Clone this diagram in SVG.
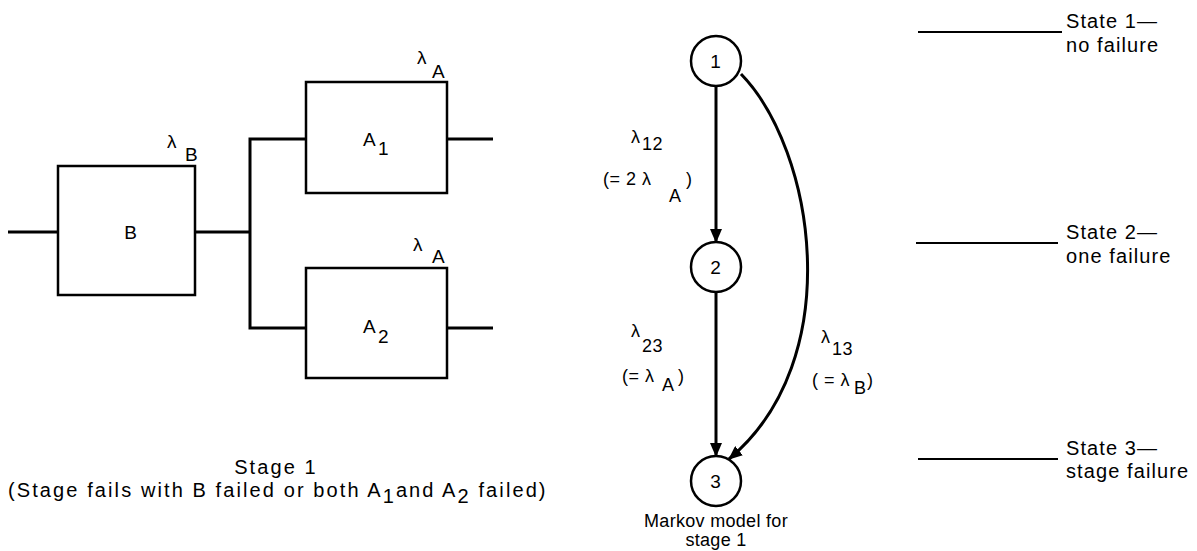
<svg xmlns="http://www.w3.org/2000/svg" width="1197" height="551" viewBox="0 0 1197 551">
<style>
.t{font-family:"Liberation Sans",Arial,sans-serif;font-size:19px;fill:#000;letter-spacing:0.8px}
.lb{font-family:"Liberation Sans",Arial,sans-serif;font-size:18px;fill:#000;letter-spacing:0.5px}
.mk{font-family:"Liberation Sans",Arial,sans-serif;font-size:18px;fill:#000;letter-spacing:0.3px}
.cap{font-family:"Liberation Sans",Arial,sans-serif;font-size:20px;fill:#000;letter-spacing:2.1px}
.sl{font-family:"Liberation Sans",Arial,sans-serif;font-size:20px;fill:#000;letter-spacing:1.1px}
.box{fill:none;stroke:#000;stroke-width:2.5}
.wire{fill:none;stroke:#000;stroke-width:3}
.st{fill:#fff;stroke:#000;stroke-width:2.5}
.arc{fill:none;stroke:#000;stroke-width:3}
.lvl{stroke:#000;stroke-width:2}
</style>
<defs>
<marker id="ah" markerUnits="userSpaceOnUse" markerWidth="14" markerHeight="12" refX="13" refY="6" orient="auto">
<path d="M0,0 L14,6 L0,12 z" fill="#000"/>
</marker>
</defs>
<rect width="1197" height="551" fill="#fff"/>

<g id="block-B">
<rect class="box" x="58" y="166" width="137" height="129"/>
<text class="t" x="131" y="239" text-anchor="middle">B</text>
<text class="t" x="167" y="148">λ</text>
<text class="t" x="185" y="161">B</text>
</g>

<g id="block-A1">
<rect class="box" x="306" y="82" width="141" height="111"/>
<text class="t" x="363" y="146">A</text>
<text class="t" x="378" y="155">1</text>
<text class="t" x="417" y="64">λ</text>
<text class="t" x="432" y="78">A</text>
</g>

<g id="block-A2">
<rect class="box" x="306" y="268" width="141" height="110"/>
<text class="t" x="363" y="333">A</text>
<text class="t" x="378" y="343">2</text>
<text class="t" x="413" y="251">λ</text>
<text class="t" x="432" y="263">A</text>
</g>

<g id="connectors-block">
<path class="wire" d="M8,232 H58"/>
<path class="wire" d="M195,232 H250"/>
<path class="wire" d="M306,139 H250 V328 H306"/>
<path class="wire" d="M447,139 H493"/>
<path class="wire" d="M447,328 H493"/>
</g>

<g id="caption-stage">
<text class="cap" x="276" y="474" text-anchor="middle">Stage 1</text>
<text class="cap" x="8" y="497">(Stage fails with B failed or both A<tspan dy="6">1</tspan><tspan dy="-6">and A</tspan><tspan dy="6">2</tspan><tspan dy="-6"> failed)</tspan></text>
</g>

<g id="connectors-markov">
<line class="arc" x1="716" y1="86" x2="716" y2="242" marker-end="url(#ah)"/>
<line class="arc" x1="716" y1="292" x2="716" y2="456" marker-end="url(#ah)"/>
<path class="arc" d="M741,74 C815,150 848,360 729,459" marker-end="url(#ah)"/>
</g>

<g id="state-1">
<circle class="st" cx="716" cy="61" r="25"/>
<text class="t" x="716" y="68" text-anchor="middle">1</text>
</g>
<g id="state-2">
<circle class="st" cx="716" cy="267" r="25"/>
<text class="t" x="716" y="274" text-anchor="middle">2</text>
</g>
<g id="state-3">
<circle class="st" cx="716" cy="481" r="25"/>
<text class="t" x="716" y="488" text-anchor="middle">3</text>
</g>

<g id="labels-markov">
<text class="lb" x="631" y="143">λ</text>
<text class="lb" x="642" y="150">12</text>
<text class="lb" x="603" y="185">(= 2 λ</text>
<text class="lb" x="669" y="202">A</text>
<text class="lb" x="686" y="185">)</text>

<text class="lb" x="631" y="337">λ</text>
<text class="lb" x="642" y="352">23</text>
<text class="lb" x="622" y="382">(= λ</text>
<text class="lb" x="662" y="391">A</text>
<text class="lb" x="678" y="382">)</text>

<text class="lb" x="821" y="343">λ</text>
<text class="lb" x="832" y="355">13</text>
<text class="lb" x="812" y="386">( = λ</text>
<text class="lb" x="854" y="394">B</text>
<text class="lb" x="867" y="386">)</text>

<text class="mk" x="716" y="527" text-anchor="middle">Markov model for</text>
<text class="mk" x="716" y="546" text-anchor="middle">stage 1</text>
</g>

<g id="state-levels">
<line class="lvl" x1="918" y1="32" x2="1062" y2="32"/>
<text class="sl" x="1066" y="28">State 1—</text>
<text class="sl" x="1066" y="52">no failure</text>
<line class="lvl" x1="916" y1="243" x2="1058" y2="243"/>
<text class="sl" x="1066" y="239">State 2—</text>
<text class="sl" x="1066" y="263">one failure</text>
<line class="lvl" x1="918" y1="459" x2="1058" y2="459"/>
<text class="sl" x="1066" y="455">State 3—</text>
<text class="sl" x="1066" y="478">stage failure</text>
</g>
</svg>
